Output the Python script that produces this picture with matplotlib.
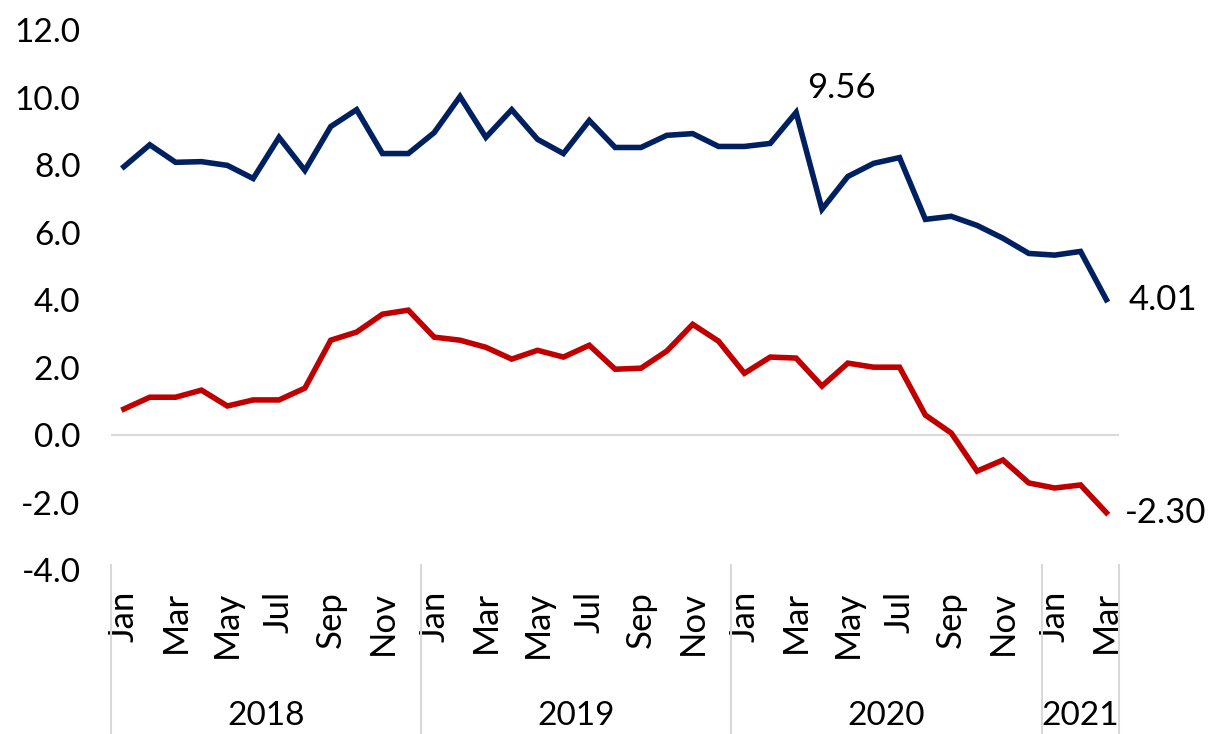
import matplotlib
from matplotlib import pyplot as plt
from matplotlib import transforms

matplotlib.use("agg")
plt.rcParams["font.family"] = ["Lato", "DejaVu Sans"]

# monthly series, Jan 2018 .. Mar 2021
months = ["Jan", "Feb", "Mar", "Apr", "May", "Jun",
          "Jul", "Aug", "Sep", "Oct", "Nov", "Dec"]
years = ["2018", "2019", "2020", "2021"]
months_in_year = [12, 12, 12, 3]

blue_series = [7.95, 8.60, 8.08, 8.10, 7.99, 7.60, 8.82, 7.84, 9.14, 9.64, 8.34, 8.34,
               8.96, 10.03, 8.82, 9.64, 8.76, 8.34, 9.32, 8.52, 8.52, 8.88, 8.93, 8.55,
               8.55, 8.64, 9.56, 6.69, 7.66, 8.05, 8.22, 6.39, 6.48, 6.21, 5.83, 5.38,
               5.33, 5.44, 4.01]
red_series = [0.77, 1.12, 1.12, 1.33, 0.86, 1.04, 1.04, 1.39, 2.81, 3.05, 3.58, 3.70,
              2.90, 2.81, 2.60, 2.25, 2.51, 2.31, 2.66, 1.95, 1.98, 2.49, 3.28, 2.78,
              1.83, 2.31, 2.28, 1.45, 2.13, 2.01, 2.01, 0.59, 0.06, -1.07, -0.74, -1.42,
              -1.57, -1.48, -2.30]

y_ticks = [-4, -2, 0, 2, 4, 6, 8, 10, 12]

labels = []
for n in months_in_year:
    labels += months[:n]
x = list(range(len(labels)))

fig = plt.figure(figsize=(12.09, 7.34), dpi=100)
ax = fig.add_axes([0.0918, 0.2234, 0.834, 0.7357])

ax.axhline(0, color="#D9D9D9", lw=1.5, zorder=1)
ax.plot(x, blue_series, color="#002060", lw=4, solid_joinstyle="miter", zorder=3)
ax.plot(x, red_series, color="#C00000", lw=4, solid_joinstyle="miter", zorder=3)

ax.set_xlim(-0.5, len(x) - 0.5)
ax.set_ylim(-4, 12)
ax.set_yticks(y_ticks)
ax.set_yticklabels([f"{v:.1f}" for v in y_ticks], fontsize=24)
ax.set_xticks(x[::2])
ax.set_xticklabels(labels[::2], rotation=90, fontsize=25)
ax.tick_params(axis="both", length=0)
ax.tick_params(axis="y", pad=22)
ax.tick_params(axis="x", pad=15)
for s in ax.spines.values():
    s.set_visible(False)

# year groups with separator lines below the axis
trans = transforms.blended_transform_factory(ax.transData, ax.transAxes)
start = 0
bounds = [-0.5]
for yr, n in zip(years, months_in_year):
    end = start + n
    bounds.append(end - 0.5)
    ax.text((start + end - 1) / 2, -0.27, yr, transform=trans,
            ha="center", va="center", fontsize=24)
    start = end
for b in bounds:
    ax.plot([b, b], [0.01, -0.31], transform=trans, color="#D9D9D9",
            lw=1.5, clip_on=False)

# value labels
ax.annotate(f"{blue_series[26]:.2f}", (26, blue_series[26]), xytext=(8, 6),
            textcoords="offset points", fontsize=25, va="bottom", ha="left")
ax.annotate(f"{blue_series[-1]:.2f}", (len(x) - 1, blue_series[-1]), xytext=(16, 0),
            textcoords="offset points", fontsize=25, va="center", ha="left")
ax.annotate(f"{red_series[-1]:.2f}", (len(x) - 1, red_series[-1]), xytext=(13, 0),
            textcoords="offset points", fontsize=25, va="center", ha="left")

plt.savefig("out.png", dpi=100)
